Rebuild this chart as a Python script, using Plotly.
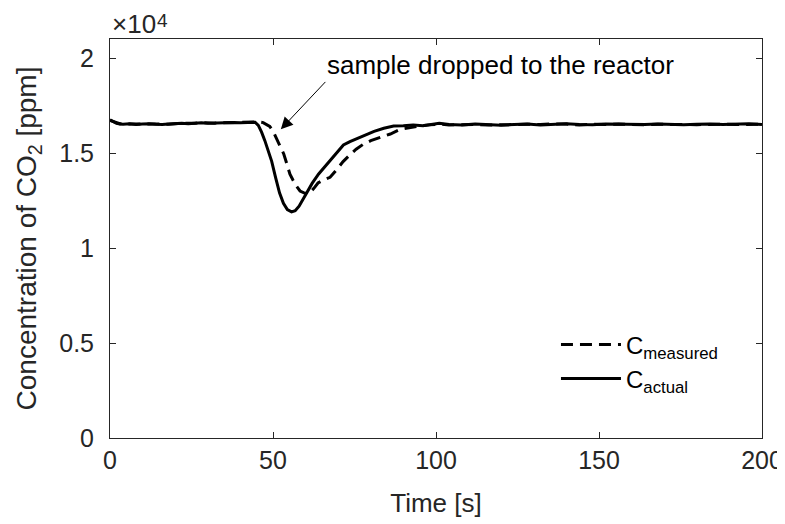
import plotly.graph_objects as go

# ---------------- data (ppm vs s) ----------------
t_actual = [0, 1, 2, 3, 4, 6, 8, 10, 12, 14, 16, 18, 20, 22, 24, 26, 28, 30, 32, 34, 36, 38, 40, 42, 44,
            44.5, 45.5, 46.5, 47.5, 48.5, 49.6, 50.8, 52, 53.2, 54.4, 55.7, 56.8, 58, 59.2, 60.3, 62, 64,
            66, 68, 70, 71.6, 73.6, 76, 78.7, 81, 84, 87, 90, 93, 96, 99, 101,
            104, 108, 112, 116, 120, 124, 128, 132, 136, 140, 144, 148, 152, 156, 160, 164, 168, 172,
            176, 180, 184, 188, 192, 196, 200]
c_actual = [16750, 16640, 16560, 16520, 16510, 16540, 16500, 16520, 16540, 16510, 16500, 16530, 16550,
            16560, 16540, 16570, 16590, 16570, 16580, 16600, 16580, 16600, 16590, 16610, 16620,
            16620, 16450, 16100, 15650, 15150, 14560, 13700, 12900, 12350, 12020, 11900, 11960, 12200,
            12550, 12900, 13400, 13900, 14300, 14750, 15150, 15420, 15600, 15780, 15960, 16140, 16300,
            16420, 16430, 16470, 16440, 16500, 16570,
            16500, 16470, 16520, 16490, 16460, 16500, 16530, 16480, 16510, 16540, 16500, 16490, 16520,
            16510, 16480, 16500, 16520, 16500, 16490, 16510, 16530, 16500, 16520, 16540, 16500]

t_measured = [0, 1, 2, 3, 4, 6, 8, 10, 12, 14, 16, 18, 20, 22, 24, 26, 28, 30, 32, 34, 36, 38, 40, 42, 44,
              45.5, 47, 48, 49, 50, 51, 52.1, 53.3, 54.3, 55.2, 56.2, 57.2, 58.3, 59.5, 60.5, 61.5, 62.6,
              63.8, 65.5, 67.5, 69.6, 71.5, 73.6, 75.5, 77.6, 80, 83.7, 86, 89, 92, 95, 98, 101,
              104, 108, 112, 116, 120, 124, 128, 132, 136, 140, 144, 148, 152, 156, 160, 164, 168, 172,
              176, 180, 184, 188, 192, 196, 200]
c_measured = [16720, 16660, 16580, 16540, 16530, 16520, 16530, 16500, 16520, 16530, 16520, 16510, 16540,
              16570, 16560, 16560, 16600, 16580, 16570, 16590, 16600, 16590, 16610, 16600, 16630,
              16640, 16600, 16520, 16400, 16150, 15800, 15450, 14950, 14400, 13880, 13550, 13250, 13000,
              12900, 12880, 12950, 13150, 13420, 13580, 13720, 14140, 14550, 14900, 15200, 15450, 15650,
              15870, 16000, 16240, 16350, 16430, 16480, 16520,
              16480, 16500, 16500, 16470, 16490, 16520, 16510, 16500, 16530, 16520, 16480, 16510, 16500,
              16530, 16500, 16480, 16510, 16520, 16500, 16490, 16510, 16520, 16500, 16520, 16510]

x_ticks = [0, 50, 100, 150, 200]
y_ticks = [0, 5000, 10000, 15000, 20000]
y_tick_labels = ["0", "0.5", "1", "1.5", "2"]

# annotation arrow (data coords): head, tail
arrow_head = (52.4, 16250)
arrow_tail = (66.5, 18820)

FONT = "Liberation Sans, Arial, Helvetica, sans-serif"
AX = "#262626"

fig = go.Figure()
fig.add_trace(go.Scatter(
    x=t_measured, y=c_measured, mode="lines", name="C<sub>measured</sub>",
    line=dict(color="black", width=3, dash="12px,7px")))
fig.add_trace(go.Scatter(
    x=t_actual, y=c_actual, mode="lines", name="C<sub>actual</sub>",
    line=dict(color="black", width=3)))

fig.add_annotation(
    x=arrow_head[0], y=arrow_head[1], ax=arrow_tail[0], ay=arrow_tail[1],
    xref="x", yref="y", axref="x", ayref="y", text="", showarrow=True,
    arrowhead=2, arrowsize=2.4, arrowwidth=1, arrowcolor="black")
fig.add_annotation(
    x=arrow_tail[0], y=arrow_tail[1], xref="x", yref="y",
    text="sample dropped to the reactor", showarrow=False,
    xanchor="left", yanchor="bottom", yshift=-2, xshift=-2,
    font=dict(family=FONT, size=26, color="black"))
# axis exponent label: "×10" with a raised "4"
fig.add_annotation(
    x=0, y=1, xref="paper", yref="paper", xanchor="left", yanchor="bottom",
    text="×10", showarrow=False, yshift=-2, xshift=0,
    font=dict(family=FONT, size=26, color=AX))
fig.add_annotation(
    x=0, y=1, xref="paper", yref="paper", xanchor="left", yanchor="bottom",
    text="4", showarrow=False, yshift=6, xshift=45,
    font=dict(family=FONT, size=19, color=AX))

# page body adds an 8px offset, so the figure is 8px smaller than the window
fig.update_layout(
    width=777, height=516,
    margin=dict(l=102, r=23, t=31, b=86),
    paper_bgcolor="white", plot_bgcolor="white",
    font=dict(family=FONT, color=AX),
    showlegend=True,
    legend=dict(x=0.684, y=0.29, xanchor="left", yanchor="top",
                bgcolor="rgba(0,0,0,0)", font=dict(family=FONT, size=24, color="black"),
                tracegroupgap=0, itemwidth=60),
    xaxis=dict(range=[0, 200], tickvals=x_ticks, ticks="inside", ticklen=6,
               showline=True, linecolor=AX, linewidth=1, mirror="ticks",
               tickcolor=AX, showgrid=False, zeroline=False, automargin=False,
               tickfont=dict(family=FONT, size=25, color=AX),
               title=dict(text="Time [s]", font=dict(family=FONT, size=26, color=AX), standoff=20)),
    yaxis=dict(range=[0, 21000], tickvals=y_ticks, ticktext=y_tick_labels, ticks="inside", ticklen=6,
               showline=True, linecolor=AX, linewidth=1, mirror="ticks",
               tickcolor=AX, showgrid=False, zeroline=False, automargin=False,
               ticklabelstandoff=10,
               tickfont=dict(family=FONT, size=25, color=AX),
               title=dict(text="Concentration of CO<sub>2</sub> [ppm]",
                          font=dict(family=FONT, size=28, color=AX), standoff=14)),
)

fig.write_html("out.html")
